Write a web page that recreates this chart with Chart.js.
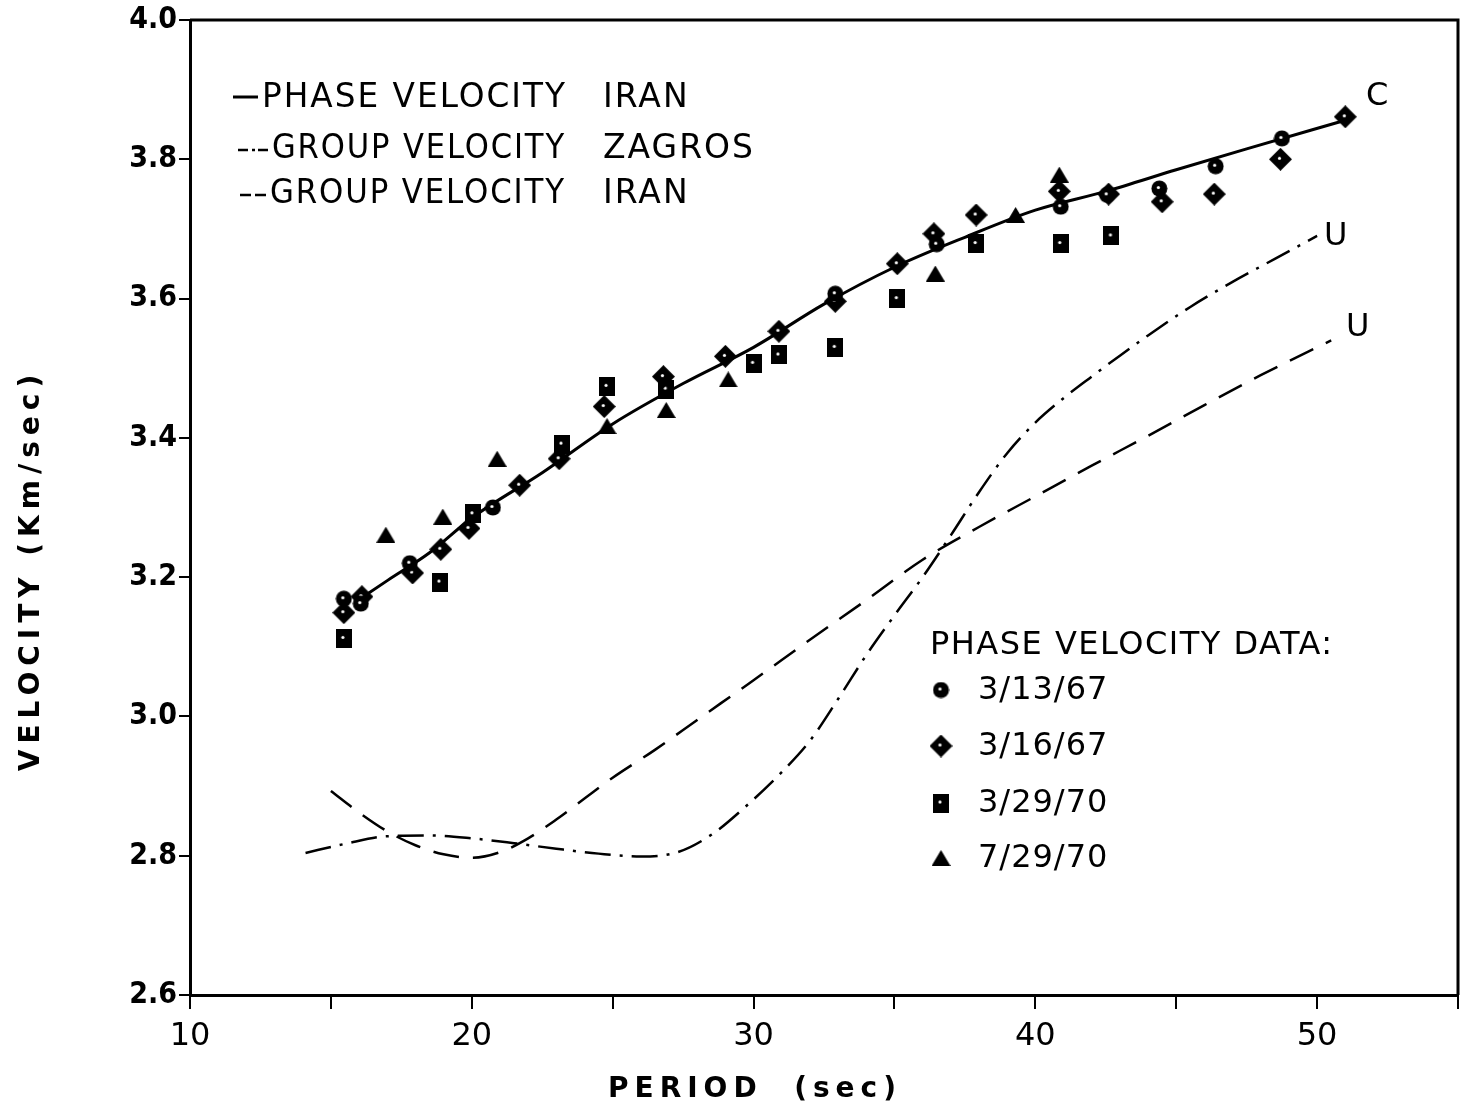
<!DOCTYPE html>
<html>
<head>
<meta charset="utf-8">
<title>Dispersion curves</title>
<script src="https://cdn.jsdelivr.net/npm/chart.js@4.4.1/dist/chart.umd.min.js"></script>
<style>
  html, body { margin: 0; padding: 0; background: #fff; }
  canvas { display: block; }
</style>
</head>
<body>
<canvas id="dispersion" width="1469" height="1113"></canvas>
<script>
// period (sec), velocity (km/sec)
const phaseCurve = [
  [15.9, 3.165], [17, 3.195], [18.5, 3.235], [20, 3.285], [22.5, 3.35],
  [25, 3.42], [27.5, 3.478], [30, 3.53], [32.5, 3.592], [35, 3.645],
  [37.5, 3.688], [40, 3.727], [42.5, 3.754], [45, 3.785], [47.5, 3.815], [51, 3.856]
];
const zagrosGroup = [
  [14.1, 2.804], [15.5, 2.817], [17, 2.828], [18.5, 2.829], [20, 2.825],
  [21.5, 2.818], [23, 2.81], [24.5, 2.803], [26, 2.799], [27.3, 2.805],
  [28.5, 2.83], [29.7, 2.87], [31, 2.92], [32, 2.965], [33, 3.025],
  [34, 3.088], [35, 3.145], [36, 3.2], [37, 3.26], [38, 3.322], [39, 3.378],
  [40, 3.422], [41, 3.457], [42, 3.488], [43, 3.518], [44, 3.547], [45.5, 3.588],
  [47, 3.624], [48.5, 3.657], [50, 3.69]
];
const iranGroup = [
  [15, 2.893], [16, 2.862], [17, 2.835], [18, 2.815], [19, 2.802], [20, 2.797],
  [21, 2.805], [22, 2.825], [23, 2.852], [24, 2.882], [25, 2.912], [26.5, 2.952],
  [28, 2.995], [30, 3.052], [32, 3.11], [34, 3.167], [36, 3.225], [38, 3.272],
  [40, 3.316], [42, 3.36], [44, 3.403], [46, 3.447], [48, 3.49], [50.5, 3.54]
];

const data31367 = [
  [15.46, 3.169], [16.06, 3.162], [17.8, 3.22], [20.75, 3.30], [32.9, 3.607],
  [36.5, 3.678], [40.9, 3.732], [42.55, 3.749], [44.4, 3.758], [46.4, 3.79],
  [48.75, 3.83]
];
const data31667 = [
  [15.46, 3.149], [16.1, 3.172], [17.9, 3.206], [18.9, 3.24], [19.9, 3.27],
  [21.7, 3.332], [23.1, 3.37], [24.7, 3.445], [26.8, 3.488], [29.0, 3.517],
  [30.9, 3.553], [32.9, 3.596], [35.1, 3.65], [36.4, 3.693], [37.9, 3.72],
  [40.85, 3.754], [42.6, 3.75], [44.5, 3.739], [46.35, 3.75], [48.7, 3.80],
  [51.0, 3.861]
];
const data32970 = [
  [15.46, 3.112], [18.87, 3.193], [20.04, 3.291], [23.2, 3.391], [24.8, 3.474],
  [26.9, 3.47], [30.0, 3.507], [30.9, 3.519], [32.9, 3.53], [35.1, 3.60],
  [37.9, 3.679], [40.9, 3.679], [42.7, 3.69]
];
const data72970 = [
  [16.95, 3.261], [18.97, 3.287], [20.9, 3.37], [24.8, 3.417], [26.9, 3.44],
  [29.1, 3.484], [36.45, 3.636], [39.3, 3.72], [40.85, 3.778]
];

const yTickValues = [2.6, 2.8, 3.0, 3.2, 3.4, 3.6, 3.8, 4.0];
const xLabelValues = [10, 20, 30, 40, 50];

const toPoints = arr => arr.map(([x, y]) => ({ x, y }));

// small inked markers with a white fleck in the middle
function marker(kind) {
  const c = document.createElement('canvas');
  const size = { circle: [17, 17], diamond: [23, 23], square: [16, 19], triangle: [19, 16] }[kind];
  c.width = size[0]; c.height = size[1];
  const g = c.getContext('2d');
  const w = c.width, h = c.height;
  g.fillStyle = '#000';
  g.beginPath();
  if (kind === 'circle') {
    g.arc(w / 2, h / 2, w / 2 - 0.5, 0, Math.PI * 2);
  } else if (kind === 'diamond') {
    g.moveTo(w / 2, 0); g.lineTo(w, h / 2); g.lineTo(w / 2, h); g.lineTo(0, h / 2);
  } else if (kind === 'square') {
    g.rect(0, 0, w, h);
  } else {
    g.moveTo(w / 2, 0); g.lineTo(w, h); g.lineTo(0, h);
  }
  g.closePath();
  g.fill();
  if (kind !== 'triangle') {
    g.fillStyle = '#fff';
    g.beginPath();
    g.arc(w / 2 - 1, h / 2 - 1, 1.6, 0, Math.PI * 2);
    g.fill();
  }
  return c;
}
const markers = {
  circle: marker('circle'),
  diamond: marker('diamond'),
  square: marker('square'),
  triangle: marker('triangle')
};

const curveStyle = {
  showLine: true, pointRadius: 0, borderColor: '#000', fill: false,
  tension: 0.4, cubicInterpolationMode: 'monotone', order: 2
};
const dotStyle = { showLine: false, pointRadius: 10, order: 1 };

const frameAndNotes = {
  id: 'frameAndNotes',
  afterDraw(chart) {
    const { ctx, chartArea: a } = chart;
    ctx.save();
    ctx.strokeStyle = '#000';
    ctx.fillStyle = '#000';

    // top and right sides of the frame
    ctx.lineWidth = 3;
    ctx.beginPath();
    ctx.moveTo(a.left, a.top);
    ctx.lineTo(a.right, a.top);
    ctx.lineTo(a.right, a.bottom);
    ctx.stroke();

    // line key, upper left
    ctx.lineWidth = 3;
    ctx.beginPath(); ctx.moveTo(233, 97); ctx.lineTo(258, 97); ctx.stroke();
    ctx.lineWidth = 2.5;
    ctx.beginPath();
    ctx.moveTo(238, 150); ctx.lineTo(248, 150);
    ctx.moveTo(252, 150); ctx.lineTo(255, 150);
    ctx.moveTo(258, 150); ctx.lineTo(268, 150);
    ctx.moveTo(240, 195); ctx.lineTo(251, 195);
    ctx.moveTo(255, 195); ctx.lineTo(266, 195);
    ctx.stroke();

    ctx.font = '33px "DejaVu Sans"';
    ctx.letterSpacing = '2px';
    ctx.textBaseline = 'middle';
    ctx.textAlign = 'left';
    ctx.fillText('PHASE VELOCITY', 262, 98, 305);
    ctx.fillText('IRAN', 603, 98);
    ctx.fillText('GROUP VELOCITY', 272, 149, 294);
    ctx.fillText('ZAGROS', 603, 149);
    ctx.fillText('GROUP VELOCITY', 270, 194, 296);
    ctx.fillText('IRAN', 603, 194);

    // curve labels
    ctx.font = '32px "DejaVu Sans"';
    ctx.letterSpacing = '0px';
    ctx.fillText('C', 1366, 97);
    ctx.fillText('U', 1324, 237);
    ctx.fillText('U', 1346, 328);

    // marker key, lower right
    ctx.font = '32px "DejaVu Sans"';
    ctx.letterSpacing = '1.5px';
    ctx.fillText('PHASE VELOCITY DATA:', 930, 646);
    const keys = [
      [markers.circle, '3/13/67', 690],
      [markers.diamond, '3/16/67', 746],
      [markers.square, '3/29/70', 803],
      [markers.triangle, '7/29/70', 858]
    ];
    ctx.letterSpacing = '1px';
    keys.forEach(([img, label, yy]) => {
      ctx.drawImage(img, 941 - img.width / 2, yy - img.height / 2);
      ctx.fillText(label, 978, yy + 1);
    });

    // axis titles
    ctx.font = 'bold 28px "DejaVu Sans"';
    ctx.letterSpacing = '6px';
    ctx.textAlign = 'center';
    ctx.fillText('PERIOD  (sec)', 755, 1090);
    ctx.translate(32, 570);
    ctx.rotate(-Math.PI / 2);
    ctx.fillText('VELOCITY (Km/sec)', 0, 0);
    ctx.restore();
  }
};

new Chart(document.getElementById('dispersion'), {
  type: 'scatter',
  data: {
    datasets: [
      { ...curveStyle, label: 'Phase velocity Iran', data: toPoints(phaseCurve), borderWidth: 3 },
      { ...curveStyle, label: 'Group velocity Zagros', data: toPoints(zagrosGroup), borderWidth: 2.5,
        borderDash: [26, 9, 3, 9] },
      { ...curveStyle, label: 'Group velocity Iran', data: toPoints(iranGroup), borderWidth: 2.5,
        borderDash: [26, 14] },
      { ...dotStyle, label: '3/13/67', data: toPoints(data31367), pointStyle: markers.circle },
      { ...dotStyle, label: '3/16/67', data: toPoints(data31667), pointStyle: markers.diamond },
      { ...dotStyle, label: '3/29/70', data: toPoints(data32970), pointStyle: markers.square },
      { ...dotStyle, label: '7/29/70', data: toPoints(data72970), pointStyle: markers.triangle }
    ]
  },
  options: {
    responsive: false,
    animation: false,
    events: [],
    layout: { padding: { top: 18, right: 7, left: 0, bottom: 0 } },
    plugins: {
      legend: { display: false },
      tooltip: { enabled: false }
    },
    scales: {
      x: {
        type: 'linear',
        min: 10,
        max: 55,
        afterFit: s => { s.height = 118; },
        ticks: {
          stepSize: 5,
          autoSkip: false,
          maxRotation: 0,
          padding: 8,
          color: '#000',
          font: { family: 'DejaVu Sans', size: 32 },
          callback: v => xLabelValues.includes(v) ? String(v) : ''
        },
        grid: { drawOnChartArea: false, drawTicks: true, tickLength: 14, color: '#000', lineWidth: 2 },
        border: { display: true, color: '#000', width: 3 }
      },
      y: {
        type: 'linear',
        min: 2.6,
        max: 4.0,
        afterFit: s => { s.width = 190; },
        afterBuildTicks: s => { s.ticks = yTickValues.map(v => ({ value: v })); },
        ticks: {
          padding: 2,
          color: '#000',
          font: { family: 'DejaVu Sans Condensed', size: 30, weight: 'bold' },
          callback: v => v.toFixed(1)
        },
        grid: { drawOnChartArea: false, drawTicks: true, tickLength: 11, color: '#000', lineWidth: 2 },
        border: { display: true, color: '#000', width: 3 }
      }
    }
  },
  plugins: [frameAndNotes]
});
</script>
</body>
</html>
